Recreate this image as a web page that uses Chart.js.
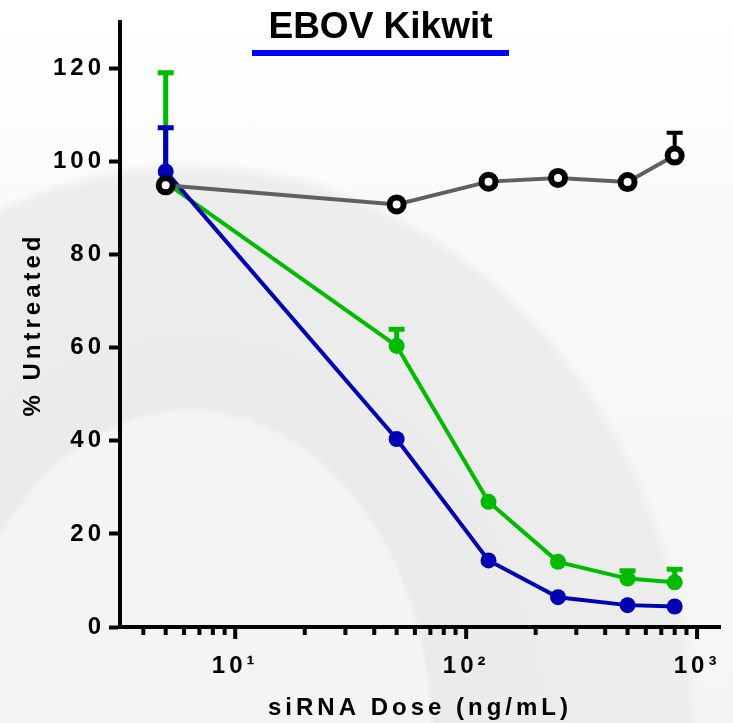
<!DOCTYPE html>
<html>
<head>
<meta charset="utf-8">
<title>EBOV Kikwit</title>
<script src="https://cdn.jsdelivr.net/npm/chart.js@4.4.1/dist/chart.umd.min.js"></script>
<style>
  html, body { margin: 0; padding: 0; }
  body {
    width: 733px;
    height: 723px;
    overflow: hidden;
    background:
      radial-gradient(245px 333px at 190px 740px, #f4f4f4 98%, rgba(244,244,244,0) 100%),
      radial-gradient(515px 595px at 190px 750px, #e8e8e8 0%, #ededed 97%, rgba(237,237,237,0) 99%),
      linear-gradient(#ffffff 0%, #f9f9f9 35%, #f5f5f5 100%);
  }
  #wrap { position: relative; width: 733px; height: 723px; }
</style>
</head>
<body>
<div id="wrap"><canvas id="doseChart"></canvas></div>
<script>
const chartTitle = 'EBOV Kikwit';
const xTitle = 'siRNA Dose (ng/mL)';
const yTitle = '% Untreated';

// doses in ng/mL
const doses = [5, 50, 125, 250, 500, 800];

// mean % untreated, and upper error (SD) per dose
const controlMean = [94.9, 90.8, 95.7, 96.5, 95.6, 101.3];
const controlErr  = [0, 0, 0, 0, 0, 4.9];
const blueMean    = [97.9, 40.4, 14.3, 6.4, 4.7, 4.4];
const blueErr     = [9.4, 0, 0, 0, 0, 0];
const greenMean   = [95.5, 60.4, 26.9, 14.0, 10.4, 9.6];
const greenErr    = [23.6, 3.6, 0, 0, 1.7, 2.8];

const yTicks = [0, 20, 40, 60, 80, 100, 120];
const xTicks = [4, 5, 6, 7, 8, 9, 10, 20, 30, 40, 50, 60, 70, 80, 90,
                100, 200, 300, 400, 500, 600, 700, 800, 900, 1000];
const xMajor = {10: '10\u00b9', 100: '10\u00b2', 1000: '10\u00b3'};

const toPoints = (ys) => doses.map((d, i) => ({x: d, y: ys[i]}));

// upper-only error bars, drawn just under each dataset's line
const errorBars = {
  id: 'errorBars',
  beforeDatasetDraw(chart, args) {
    const ds = chart.data.datasets[args.index];
    if (!ds.errUp) return;
    const {ctx, scales: {x, y}} = chart;
    ctx.save();
    ctx.strokeStyle = ds.errColor;
    ctx.lineWidth = ds.errWidth;
    ds.data.forEach((p, i) => {
      const e = ds.errUp[i];
      if (!e) return;
      const px = x.getPixelForValue(p.x);
      const py = y.getPixelForValue(p.y);
      const top = y.getPixelForValue(p.y + e);
      ctx.beginPath();
      ctx.moveTo(px, py);
      ctx.lineTo(px, top);
      ctx.moveTo(px - 8, top);
      ctx.lineTo(px + 8, top);
      ctx.stroke();
    });
    ctx.restore();
  }
};

// spaced-out axis text, log tick marks, title with underline
const frame = {
  id: 'frame',
  beforeDraw(chart) {
    chart.ctx.letterSpacing = '4px';
  },
  afterDraw(chart) {
    const {ctx, scales: {x}} = chart;
    ctx.save();
    ctx.letterSpacing = '0px';
    ctx.strokeStyle = '#000';
    ctx.lineWidth = 4;
    x.ticks.forEach(t => {
      const px = x.getPixelForValue(t.value);
      const len = t.major ? 12 : 8;
      ctx.beginPath();
      ctx.moveTo(px, x.top);
      ctx.lineTo(px, x.top + len);
      ctx.stroke();
    });
    ctx.font = 'bold 37px "Liberation Sans", Arial, sans-serif';
    ctx.fillStyle = '#000';
    ctx.textAlign = 'center';
    ctx.textBaseline = 'alphabetic';
    ctx.fillText(chartTitle, 380.5, 38);
    ctx.fillStyle = '#0000ff';
    ctx.fillRect(252, 50, 257, 6);
    ctx.restore();
  }
};

Chart.defaults.font.family = '"Liberation Sans", Arial, sans-serif';
Chart.defaults.color = '#000';

const axisFont = {size: 24, weight: 'bold'};

new Chart(document.getElementById('doseChart'), {
  type: 'line',
  data: {
    datasets: [
      {
        label: 'Control',
        data: toPoints(controlMean),
        errUp: controlErr,
        errColor: '#000',
        errWidth: 4,
        borderColor: '#606060',
        borderWidth: 4,
        pointRadius: 7,
        pointBorderWidth: 6,
        pointBorderColor: '#000',
        pointBackgroundColor: '#fff',
        tension: 0
      },
      {
        label: 'siRNA A',
        data: toPoints(blueMean),
        errUp: blueErr,
        errColor: '#0000b4',
        errWidth: 5,
        borderColor: '#0000b4',
        borderWidth: 4,
        pointRadius: 8,
        pointBorderWidth: 0,
        pointBackgroundColor: '#0000b4',
        tension: 0
      },
      {
        label: 'siRNA B',
        data: toPoints(greenMean),
        errUp: greenErr,
        errColor: '#00bb00',
        errWidth: 5,
        borderColor: '#00bb00',
        borderWidth: 4,
        pointRadius: 8,
        pointBorderWidth: 0,
        pointBackgroundColor: '#00bb00',
        tension: 0
      }
    ]
  },
  options: {
    responsive: true,
    maintainAspectRatio: false,
    animation: false,
    events: [],
    layout: {padding: {top: 22, right: 10, left: 0, bottom: 0}},
    plugins: {
      legend: {display: false},
      tooltip: {enabled: false},
      title: {display: false}
    },
    scales: {
      x: {
        type: 'logarithmic',
        min: 3.17,
        max: 1257,
        afterBuildTicks: (s) => {
          s.ticks = xTicks.map(v => ({value: v, major: v in xMajor}));
        },
        afterFit: (s) => { s.height = 96; },
        border: {display: true, width: 4, color: '#000'},
        grid: {display: false, drawTicks: true, tickLength: 12},
        ticks: {
          autoSkip: false,
          maxRotation: 0,
          minRotation: 0,
          padding: 13,
          font: axisFont,
          callback: (v) => xMajor[v] || ''
        },
        title: {
          display: true,
          text: xTitle,
          font: axisFont,
          padding: {top: 0, bottom: 0}
        }
      },
      y: {
        min: 0,
        max: 130,
        afterBuildTicks: (s) => {
          s.ticks = yTicks.map(v => ({value: v}));
        },
        afterFit: (s) => { s.width = 120; },
        border: {display: true, width: 4, color: '#000'},
        grid: {
          display: true,
          drawOnChartArea: false,
          drawTicks: true,
          tickLength: 11,
          tickWidth: 4,
          tickColor: '#000'
        },
        ticks: {padding: 4, font: axisFont},
        title: {
          display: true,
          text: yTitle,
          font: axisFont,
          padding: {top: 19, bottom: 0}
        }
      }
    }
  },
  plugins: [errorBars, frame]
});
</script>
</body>
</html>
